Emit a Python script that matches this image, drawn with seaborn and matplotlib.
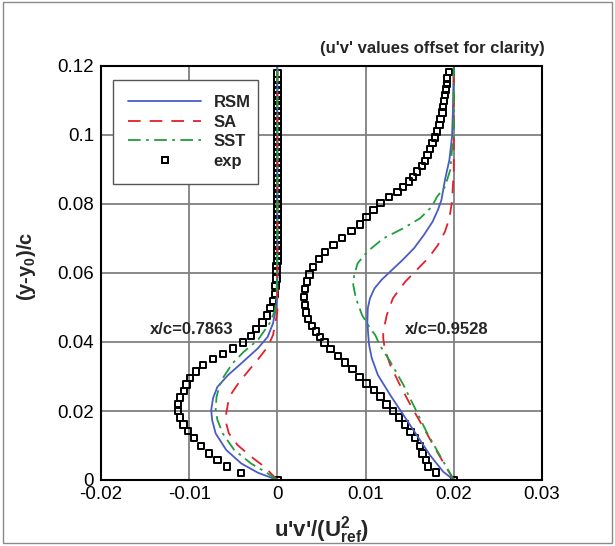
import numpy as np
import pandas as pd
import matplotlib
matplotlib.use("Agg")
import matplotlib.pyplot as plt
import seaborn as sns
from matplotlib.lines import Line2D
from matplotlib.patches import Rectangle
from matplotlib.ticker import MultipleLocator

# ---------------- data ----------------
OFFSET_2 = 0.02  # second station shifted for clarity

# x/c = 0.7863 (no offset)
exp1_y = [0.0, 0.0021, 0.0039, 0.0058, 0.0077, 0.0099, 0.0121, 0.0142, 0.0161, 0.0181,
          0.0200, 0.0220, 0.0239, 0.0258, 0.0277, 0.0296, 0.0315, 0.0333, 0.0350, 0.0365,
          0.0381, 0.0399, 0.0417, 0.0437, 0.0456, 0.0477, 0.0498, 0.0519, 0.0540, 0.0562,
          0.0584, 0.0605, 0.0620, 0.0635, 0.0650, 0.0665, 0.0680, 0.0695, 0.0710, 0.0725,
          0.0740, 0.0755, 0.0770, 0.0785, 0.0800, 0.0815, 0.0830, 0.0845, 0.0860, 0.0875,
          0.0890, 0.0905, 0.0920, 0.0935, 0.0950, 0.0965, 0.0980, 0.0995, 0.1010, 0.1025,
          0.1040, 0.1055, 0.1070, 0.1085, 0.1100, 0.1115, 0.1130, 0.1145, 0.1160, 0.1178]
exp1_uv = [0.0, -0.00414, -0.00573, -0.00678, -0.00773, -0.00867, -0.00943, -0.01011, -0.01064, -0.01102,
           -0.01125, -0.01125, -0.01102, -0.0106, -0.0103, -0.0099, -0.0092, -0.0084, -0.0073, -0.0062,
           -0.0050, -0.0039, -0.0030, -0.0024, -0.0017, -0.0012, -0.0008, -0.0005, -0.0003, -0.0002,
           -0.0001, -0.0001, -0.0001, 0.0, 0.0, 0.0, 0.0, 0.0, 0.0, 0.0,
           0.0, 0.0, 0.0, 0.0, 0.0, 0.0, 0.0, 0.0, 0.0, 0.0,
           0.0, 0.0, 0.0, 0.0, 0.0, 0.0, 0.0, 0.0, 0.0, 0.0,
           0.0, 0.0, 0.0, 0.0, 0.0, 0.0, 0.0, 0.0, 0.0, 0.0]

rsm1_y = [0.0, 0.0021, 0.0048, 0.0087, 0.0135, 0.0174, 0.0203, 0.0237, 0.0270, 0.0304,
          0.0338, 0.0382, 0.0415, 0.0454, 0.0493, 0.0540, 0.0700, 0.1200]
rsm1_uv = [0.0, -0.0022, -0.0041, -0.0058, -0.0070, -0.0074, -0.0075, -0.0073, -0.0068, -0.0056,
           -0.0041, -0.0022, -0.0011, -0.0005, -0.0002, 0.0, 0.0, 0.0]

sa1_y = [0.0, 0.0039, 0.0068, 0.0101, 0.0135, 0.0164, 0.0193, 0.0222, 0.0251, 0.0285,
         0.0319, 0.0353, 0.0386, 0.0420, 0.0459, 0.0490, 0.0700, 0.1200]
sa1_uv = [0.0, -0.0015, -0.0030, -0.0045, -0.0055, -0.0058, -0.0058, -0.0056, -0.0052, -0.0043,
          -0.0032, -0.0021, -0.0011, -0.0005, -0.0002, 0.0, 0.0, 0.0]

sst1_y = [0.0, 0.0019, 0.0048, 0.0087, 0.0135, 0.0174, 0.0203, 0.0241, 0.0270, 0.0295,
          0.0338, 0.0372, 0.0406, 0.0454, 0.0490, 0.0530, 0.0700, 0.1200]
sst1_uv = [0.0, -0.0011, -0.0030, -0.0049, -0.0062, -0.0068, -0.0070, -0.0069, -0.0066, -0.0062,
           -0.0051, -0.0038, -0.0022, -0.0009, -0.0003, -0.0001, 0.0, 0.0]

# x/c = 0.9528 (raw values, plotted with OFFSET_2)
exp2_y = [0.1182, 0.1164, 0.1148, 0.1132, 0.1116, 0.1099, 0.1082, 0.1065, 0.1047, 0.1029,
          0.1010, 0.0993, 0.0976, 0.0959, 0.0942, 0.0925, 0.0910, 0.0894, 0.0879, 0.0865,
          0.0850, 0.0835, 0.0820, 0.0802, 0.0783, 0.0763, 0.0741, 0.0722, 0.0701, 0.0681,
          0.0660, 0.0641, 0.0618, 0.0596, 0.0575, 0.0554, 0.0531, 0.0507, 0.0486, 0.0467,
          0.0447, 0.0430, 0.0415, 0.0399, 0.0380, 0.0360, 0.0341, 0.0322, 0.0299, 0.0280,
          0.0261, 0.0242, 0.0219, 0.0200, 0.0181, 0.0161, 0.0140, 0.0121, 0.0099, 0.0077,
          0.0058, 0.0039, 0.0022, 0.0]
exp2_uv = [-0.00054, -0.00074, -0.0008, -0.0009, -0.0010, -0.0011, -0.0012, -0.0013, -0.0015, -0.00164,
           -0.0019, -0.00213, -0.0024, -0.0027, -0.0030, -0.0033, -0.00364, -0.00414, -0.0046, -0.0051,
           -0.00573, -0.0064, -0.00738, -0.00829, -0.00912, -0.00988, -0.01063, -0.01158, -0.01271, -0.01366,
           -0.0146, -0.01525, -0.01593, -0.01638, -0.01668, -0.01687, -0.01698, -0.01687, -0.01676, -0.0165,
           -0.01611, -0.01562, -0.01515, -0.01468, -0.01396, -0.0131, -0.01233, -0.0115, -0.01071, -0.00988,
           -0.00905, -0.00829, -0.00761, -0.00686, -0.00618, -0.00553, -0.00489, -0.0044, -0.00383, -0.00353,
           -0.00315, -0.00296, -0.00205, 0.0]

rsm2_y = [0.0, 0.0024, 0.0072, 0.0130, 0.0188, 0.0246, 0.0304, 0.0353, 0.0391, 0.0420,
          0.0459, 0.0498, 0.0527, 0.0555, 0.0580, 0.0609, 0.0638, 0.0672, 0.0710, 0.0749,
          0.0783, 0.0812, 0.0870, 0.0928, 0.0995, 0.1072, 0.1200]
rsm2_uv = [0.0, -0.0012, -0.0027, -0.0042, -0.0057, -0.0072, -0.0086, -0.0093, -0.0096, -0.0097,
           -0.0098, -0.00975, -0.0095, -0.0090, -0.0082, -0.0070, -0.0058, -0.0045, -0.0034, -0.0024,
           -0.0018, -0.0014, -0.0010, -0.0005, -0.0002, -0.0001, 0.0]

sa2_y = [0.0, 0.0034, 0.0082, 0.0150, 0.0217, 0.0275, 0.0333, 0.0377, 0.0410, 0.0430,
         0.0478, 0.0527, 0.0575, 0.0609, 0.0643, 0.0681, 0.0720, 0.0759, 0.0807, 0.0900, 0.1200]
sa2_uv = [0.0, -0.0008, -0.0019, -0.0034, -0.0049, -0.0061, -0.0072, -0.0078, -0.0080, -0.0080,
          -0.0076, -0.0069, -0.0055, -0.0042, -0.0029, -0.0018, -0.0010, -0.0005, -0.0002, 0.0, 0.0]

sst2_y = [0.0, 0.0014, 0.0072, 0.0140, 0.0208, 0.0275, 0.0343, 0.0391, 0.0420, 0.0440,
          0.0478, 0.0527, 0.0565, 0.0594, 0.0628, 0.0662, 0.0700, 0.0730, 0.0759, 0.0792,
          0.0821, 0.0850, 0.0899, 0.0957, 0.1000, 0.1200]
sst2_uv = [0.0, -0.0003, -0.0016, -0.0031, -0.0044, -0.0057, -0.0072, -0.0084, -0.0089, -0.0095,
           -0.0104, -0.0111, -0.0114, -0.0113, -0.0109, -0.0098, -0.0080, -0.0057, -0.0038, -0.0025,
           -0.0019, -0.0010, -0.0004, -0.0002, 0.0, 0.0]

xticks = [-0.02, -0.01, 0, 0.01, 0.02, 0.03]
xticklabels = ["-0.02", "-0.01", "0", "0.01", "0.02", "0.03"]
yticks = [0, 0.02, 0.04, 0.06, 0.08, 0.1, 0.12]
yticklabels = ["0", "0.02", "0.04", "0.06", "0.08", "0.1", "0.12"]

# ---------------- style ----------------
sns.set_style("white")
plt.rcParams["font.family"] = ["Liberation Sans", "DejaVu Sans"]
plt.rcParams["mathtext.fontset"] = "custom"
plt.rcParams["mathtext.rm"] = "Liberation Sans"
plt.rcParams["mathtext.bf"] = "Liberation Sans:bold"

C_RSM = "#4a5cc4"
C_SA = "#e3202a"
C_SST = "#1f9e3a"
LS_SA = (0, (7, 5))
LS_SST = (0, (7, 3, 1.5, 3))
LW = 1.3

fig = plt.figure(figsize=(6.15, 5.46), dpi=100)
ax = fig.add_axes([101 / 615, 1 - 480 / 546, 441 / 615, 414 / 546])

def line(uv, y, off, color, ls):
    df = pd.DataFrame({"uv": np.asarray(uv) + off, "y": y})
    sns.lineplot(data=df, x="uv", y="y", sort=False, estimator=None, color=color,
                 linestyle=ls, linewidth=LW, ax=ax, legend=False)

def squares(uv, y, off):
    df = pd.DataFrame({"uv": np.asarray(uv) + off, "y": y})
    sns.scatterplot(data=df, x="uv", y="y", marker="s", s=21, ax=ax, legend=False)
    coll = ax.collections[-1]
    coll.set_facecolor("none")
    coll.set_edgecolor("black")
    coll.set_linewidth(1.4)

for off, (r_uv, r_y, a_uv, a_y, s_uv, s_y, e_uv, e_y) in [
    (0.0, (rsm1_uv, rsm1_y, sa1_uv, sa1_y, sst1_uv, sst1_y, exp1_uv, exp1_y)),
    (OFFSET_2, (rsm2_uv, rsm2_y, sa2_uv, sa2_y, sst2_uv, sst2_y, exp2_uv, exp2_y)),
]:
    line(r_uv, r_y, off, C_RSM, "-")
    line(a_uv, a_y, off, C_SA, LS_SA)
    line(s_uv, s_y, off, C_SST, LS_SST)
    squares(e_uv, e_y, off)

ax.set_xlim(-0.02, 0.03)
ax.set_ylim(0, 0.12)
ax.set_xticks(xticks)
ax.set_xticklabels(xticklabels)
ax.set_yticks(yticks)
ax.set_yticklabels(yticklabels)
ax.xaxis.set_minor_locator(MultipleLocator(0.002))
ax.yaxis.set_minor_locator(MultipleLocator(0.005))
ax.tick_params(which="major", direction="in", length=8, width=1.3, labelsize=13.5,
               top=False, right=False, colors="black")
ax.tick_params(axis="y", which="major", pad=5)
ax.tick_params(axis="x", which="major", pad=4)
ax.tick_params(which="minor", direction="in", length=4, width=1.0, top=False, right=False)
ax.grid(True, which="major", color="#808080", linewidth=1.3)
ax.set_axisbelow(True)
for sp in ax.spines.values():
    sp.set_color("black")
    sp.set_linewidth(1.5)

ax.set_xlabel(r"u'v'/(U$_{\mathbf{ref}}^{\mathbf{2}}$)", fontsize=16, fontweight="bold")
ax.set_ylabel(r"(y-y$_{\mathbf{0}}$)/c", fontsize=14.5, fontweight="bold")
ax.xaxis.set_label_coords(0.5, -0.082)
ax.yaxis.set_label_coords(-0.143, 0.515)

handles = [
    Line2D([], [], color=C_RSM, lw=LW, ls="-"),
    Line2D([], [], color=C_SA, lw=LW, ls=LS_SA),
    Line2D([], [], color=C_SST, lw=LW, ls=LS_SST),
    Line2D([], [], color="black", lw=0, marker="s", markersize=4.8,
           markerfacecolor="none", markeredgewidth=1.4),
]
leg = ax.legend(handles, ["RSM", "SA", "SST", "exp"], loc="upper left",
                bbox_to_anchor=(113 / 615, (546 - 185) / 546, 145 / 615, 105 / 546),
                bbox_transform=fig.transFigure, mode="expand",
                borderaxespad=0, frameon=True, fancybox=False, framealpha=1,
                edgecolor="#555555", handlelength=4.4, handletextpad=0.75,
                labelspacing=0.28, borderpad=0.9, numpoints=1,
                prop={"weight": "bold", "size": 12})
leg.get_frame().set_linewidth(1.0)

fig.text(432 / 615, 1 - 49 / 546, "(u'v' values offset for clarity)", ha="center",
         va="center", fontsize=12, fontweight="bold")
fig.text(192 / 615, 1 - 330 / 546, "x/c=0.7863", ha="center", va="center",
         fontsize=12, fontweight="bold")
fig.text(447 / 615, 1 - 330 / 546, "x/c=0.9528", ha="center", va="center",
         fontsize=12, fontweight="bold")

fig.patches.append(Rectangle((3 / 615, 3 / 546), 609 / 615, 541 / 546,
                             transform=fig.transFigure, fill=False,
                             edgecolor="#8a8a8a", linewidth=1.0))

fig.savefig("out.png", dpi=100)
